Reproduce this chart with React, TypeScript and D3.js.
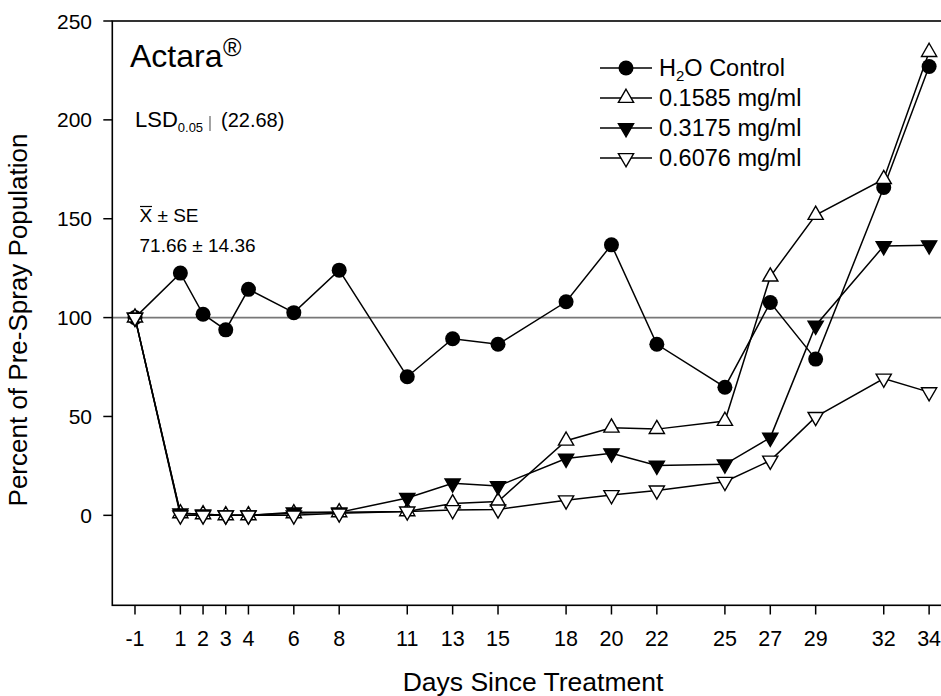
import React from "react";
import * as d3 from "d3";

const days = [-1, 1, 2, 3, 4, 6, 8, 11, 13, 15, 18, 20, 22, 25, 27, 29, 32, 34];
const control = [100, 122.5, 101.7, 93.8, 114.3, 102.5, 124, 70.1, 89.3, 86.5, 108, 136.8, 86.5, 64.8, 107.6, 79, 165.8, 227];
const c1585 = [100, 1, 0.5, 0, 0, 1, 1.5, 2, 6, 7, 37.7, 44.3, 43.6, 47.7, 120.7, 151.9, 170, 234.3];
const c3175 = [100, 1, 0.5, 0, 0, 1.5, 1.5, 8.8, 16.2, 14.8, 28.7, 31.4, 25.2, 25.8, 39.3, 96, 136.2, 136.6];
const c6076 = [100, 0, 0, 0, 0, 0, 1, 2, 2.7, 3, 7.6, 10.3, 12.6, 17, 27.7, 49.8, 69.2, 62.3];
const yTicks = [0, 50, 100, 150, 200, 250];
const seriesNames = ["H\u2082O Control", "0.1585 mg/ml", "0.3175 mg/ml", "0.6076 mg/ml"];

const FONT = "'Liberation Sans', Arial, Helvetica, sans-serif";

type Kind = "circle" | "up" | "downFilled" | "down";
const kinds: Kind[] = ["circle", "up", "downFilled", "down"];
const allSeries = [control, c1585, c3175, c6076];

function Marker({ kind, x, y }: { kind: Kind; x: number; y: number }) {
  if (kind === "circle") {
    return <circle cx={x} cy={y} r={7.5} fill="#000" />;
  }
  const tri = d3.symbol().type(d3.symbolTriangle).size(100)() as string;
  const rot = kind === "up" ? 0 : 180;
  const fill = kind === "downFilled" ? "#000" : "#fff";
  return (
    <path
      d={tri}
      transform={`translate(${x},${y}) rotate(${rot})`}
      fill={fill}
      stroke="#000"
      strokeWidth={1.4}
    />
  );
}

export default function App() {
  const W = 941;
  const H = 696;
  const x = d3.scaleLinear().domain([-2, 35]).range([112.3, 951.8]);
  const y = d3.scaleLinear().domain([-45.5, 250]).range([605.3, 21]);
  const line = d3
    .line<number>()
    .x((_, i) => x(days[i]))
    .y((v) => y(v));

  const legendX = 600;
  const legendY0 = 68;
  const legendDy = 30;

  return (
    <svg width={W} height={H} style={{ position: "absolute", left: 0, top: 0 }} fontFamily={FONT}>
      <rect x={0} y={0} width={W} height={H} fill="#fff" />
      {/* reference line at 100 */}
      <line x1={x(-2)} x2={x(35)} y1={y(100)} y2={y(100)} stroke="#777" strokeWidth={1.6} />
      {/* frame */}
      <rect
        x={x(-2)}
        y={y(250)}
        width={x(35) - x(-2)}
        height={y(-45.5) - y(250)}
        fill="none"
        stroke="#000"
        strokeWidth={1.6}
      />
      {/* y ticks */}
      {yTicks.map((t) => (
        <g key={"y" + t}>
          <line x1={x(-2) - 9} x2={x(-2)} y1={y(t)} y2={y(t)} stroke="#000" strokeWidth={1.5} />
          <text x={92} y={y(t) + 7.5} textAnchor="end" fontSize={21}>
            {t}
          </text>
        </g>
      ))}
      {/* x ticks */}
      {days.map((d) => (
        <g key={"x" + d}>
          <line x1={x(d)} x2={x(d)} y1={605.3} y2={614.5} stroke="#000" strokeWidth={1.5} />
          <text x={x(d)} y={646} textAnchor="middle" fontSize={21.5}>
            {d}
          </text>
        </g>
      ))}
      {/* axis titles */}
      <text x={533} y={691} textAnchor="middle" fontSize={26.5}>
        Days Since Treatment
      </text>
      <text
        transform={`translate(27,320) rotate(-90)`}
        textAnchor="middle"
        fontSize={26}
      >
        Percent of Pre-Spray Population
      </text>

      {/* series */}
      {allSeries.map((s, si) => (
        <g key={"s" + si}>
          <path d={line(s) as string} fill="none" stroke="#000" strokeWidth={1.5} />
          {s.map((v, i) => (
            <Marker key={i} kind={kinds[si]} x={x(days[i])} y={y(v)} />
          ))}
        </g>
      ))}

      {/* annotations */}
      <text x={130} y={67} fontSize={32}>
        Actara
      </text>
      <text x={223} y={56} fontSize={25}>
        ®
      </text>
      <text x={135} y={127} fontSize={22}>
        LSD
        <tspan fontSize={13} dy={5}>
          0.05
        </tspan>
      </text>
      <line x1={210} x2={210} y1={116} y2={131} stroke="#666" strokeWidth={1.2} />
      <text x={221} y={127} fontSize={20}>
        (22.68)
      </text>
      <line x1={140} x2={152} y1={206.5} y2={206.5} stroke="#000" strokeWidth={1.2} />
      <text x={139.5} y={222} fontSize={19}>
        X ± SE
      </text>
      <text x={139.5} y={252} fontSize={19}>
        71.66 ± 14.36
      </text>

      {/* legend */}
      {seriesNames.map((n, i) => {
        const cy = legendY0 + i * legendDy;
        return (
          <g key={"l" + i}>
            <line x1={legendX} x2={legendX + 52} y1={cy} y2={cy} stroke="#000" strokeWidth={1.5} />
            <Marker kind={kinds[i]} x={legendX + 26} y={cy} />
            {i === 0 ? (
              <text x={659} y={cy + 8} fontSize={23.5}>
                H
                <tspan fontSize={15} dy={5}>
                  2
                </tspan>
                <tspan dy={-5}>O Control</tspan>
              </text>
            ) : (
              <text x={659} y={cy + 8} fontSize={23.5}>
                {n}
              </text>
            )}
          </g>
        );
      })}
    </svg>
  );
}
